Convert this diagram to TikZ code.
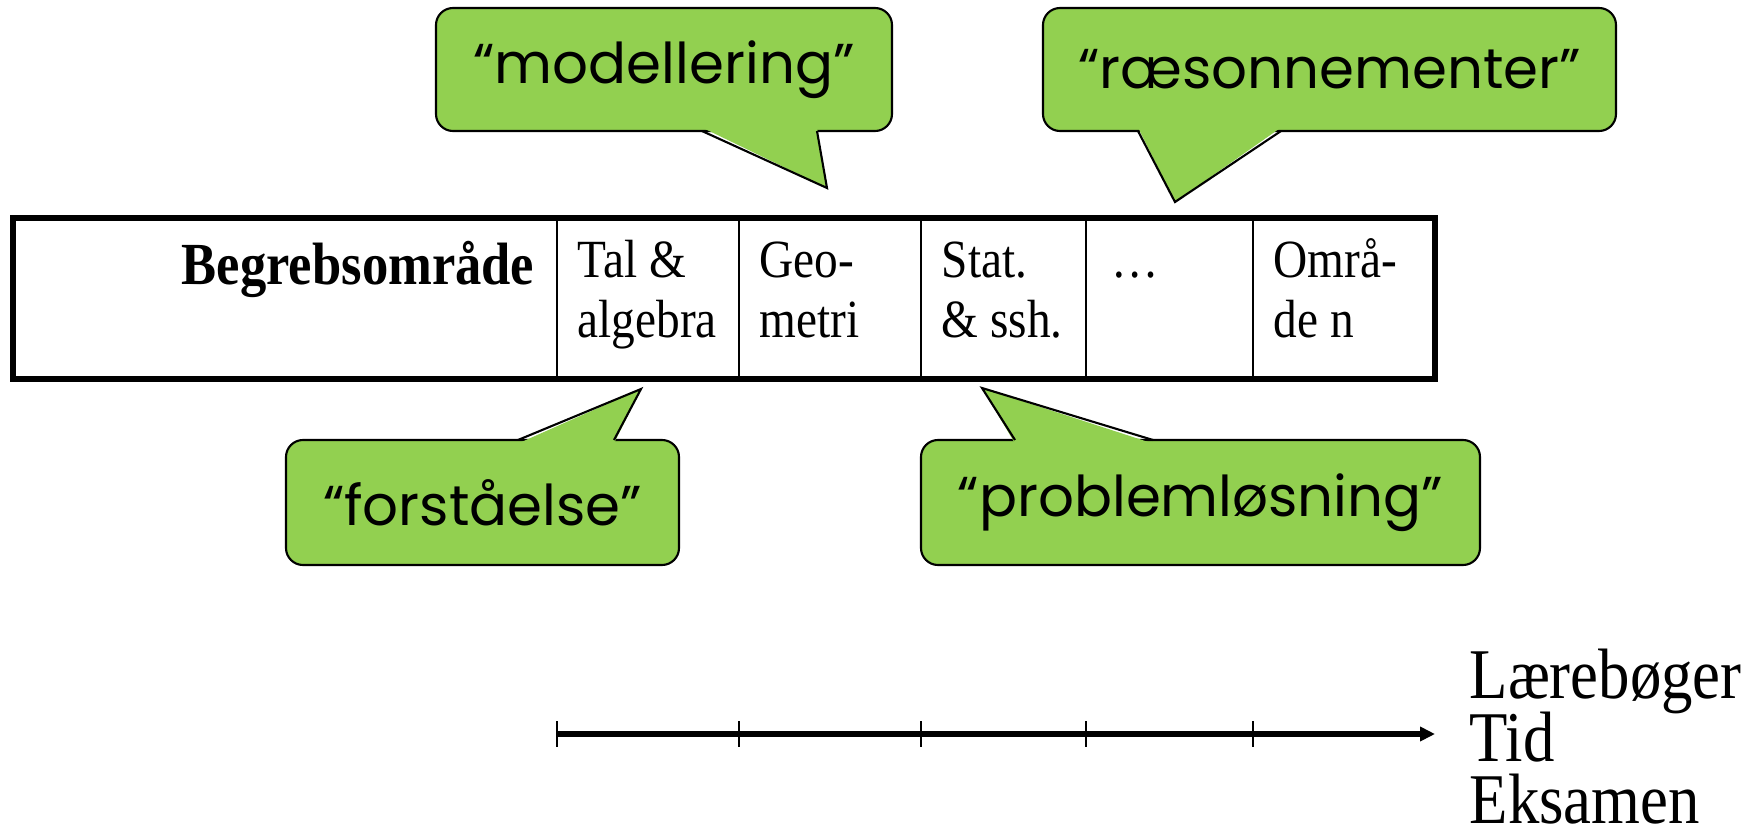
\documentclass[tikz,border=0pt]{standalone}
\usepackage{fontspec}
\usepackage{tikz}
\usetikzlibrary{arrows.meta}
\setmainfont{Liberation Serif}
\newfontfamily\tidfont[FakeStretch=0.88]{Liberation Serif}
\newfontfamily\boblefont{Poppins}
\definecolor{boblegroen}{RGB}{146,208,80}

\begin{document}
\begin{tikzpicture}[
    felt/.style={draw,line width=0.6pt,minimum height=1.61cm,inner sep=0pt,outer sep=0pt,anchor=north west},
    felttekst/.style={anchor=base west,align=left,inner sep=0pt,font=\tidfont\fontsize{15.3}{17}\selectfont},
    boble/.style={draw,fill=boblegroen,rounded corners=0.17cm,line width=0.6pt,inner sep=0pt,outer sep=0pt,font=\boblefont\fontsize{16}{19}\selectfont},
    hale/.style={line width=0.6pt,line join=miter},
    tidlabel/.style={anchor=base west,inner sep=0pt,font=\tidfont\fontsize{20.3}{18}\selectfont}
    ]
    \useasboundingbox (0,0) rectangle (17.54,-8.34);

    % tabellen
    \node[felt,minimum width=5.44cm] (hoved) at (0.13,-2.18) {};
    \node[felt,minimum width=1.82cm] (tal) at (hoved.north east) {};
    \node[felt,minimum width=1.82cm] (geo) at (tal.north east) {};
    \node[felt,minimum width=1.65cm] (stat) at (geo.north east) {};
    \node[felt,minimum width=1.67cm] (prik) at (stat.north east) {};
    \node[felt,minimum width=1.82cm] (omr) at (prik.north east) {};
    \draw[line width=1.6pt] (hoved.north west) rectangle (omr.south east);

    \node[anchor=base east,inner sep=0pt,font=\tidfont\bfseries\fontsize{17}{19}\selectfont] (hovedtekst) at ([xshift=-0.22cm,yshift=-0.66cm]hoved.north east) {Begrebsområde};
    \node[felttekst] (taltekst) at ([xshift=0.2cm,yshift=-1.19cm]tal.north west) {Tal \&\\algebra};
    \node[felttekst] (geotekst) at ([xshift=0.2cm,yshift=-1.19cm]geo.north west) {Geo-\\metri};
    \node[felttekst] (stattekst) at ([xshift=0.2cm,yshift=-1.19cm]stat.north west) {Stat.\\\& ssh.};
    \node[felttekst] (priktekst) at ([xshift=0.25cm,yshift=-0.59cm]prik.north west) {…};
    \node[felttekst] (omrtekst) at ([xshift=0.2cm,yshift=-1.19cm]omr.north west) {Områ-\\de n};

    % boblerne
    \node[boble,minimum width=4.56cm,minimum height=1.23cm] (modell) at (6.64,-0.695) {“modellering”};
    \coordinate (modellspids) at (8.27,-1.88);
    \fill[boblegroen] ([xshift=2.66cm,yshift=1pt]modell.south west) -- (modellspids) -- ([xshift=3.81cm,yshift=1pt]modell.south west) -- cycle;
    \draw[hale] ([xshift=2.66cm]modell.south west) -- (modellspids) -- ([xshift=3.81cm]modell.south west);

    \node[boble,minimum width=5.73cm,minimum height=1.23cm] (raeson) at (13.295,-0.695) {“ræsonnementer”};
    \coordinate (raesonspids) at (11.75,-2.02);
    \fill[boblegroen] ([xshift=0.95cm,yshift=1pt]raeson.south west) -- (raesonspids) -- ([xshift=2.38cm,yshift=1pt]raeson.south west) -- cycle;
    \draw[hale] ([xshift=0.95cm]raeson.south west) -- (raesonspids) -- ([xshift=2.38cm]raeson.south west);

    \node[boble,minimum width=3.93cm,minimum height=1.25cm] (forst) at (4.825,-5.025) {“forståelse”};
    \coordinate (forstspids) at (6.41,-3.89);
    \fill[boblegroen] ([xshift=2.32cm,yshift=-1pt]forst.north west) -- (forstspids) -- ([xshift=3.28cm,yshift=-1pt]forst.north west) -- cycle;
    \draw[hale] ([xshift=2.32cm]forst.north west) -- (forstspids) -- ([xshift=3.28cm]forst.north west);

    \node[boble,minimum width=5.59cm,minimum height=1.25cm] (probl) at (12.005,-5.025) {“problemløsning”};
    \coordinate (problspids) at (9.82,-3.88);
    \fill[boblegroen] ([xshift=0.94cm,yshift=-1pt]probl.north west) -- (problspids) -- ([xshift=2.32cm,yshift=-1pt]probl.north west) -- cycle;
    \draw[hale] ([xshift=0.94cm]probl.north west) -- (problspids) -- ([xshift=2.32cm]probl.north west);

    % tidslinjen
    \coordinate (start) at (5.57,-7.34);
    \coordinate (slut) at (14.35,-7.34);
    \draw[line width=1.5pt,-{Triangle[length=0.15cm,width=0.14cm]}] (start) -- (slut);
    \foreach \c in {tal,geo,stat,prik,omr}
        \draw[line width=0.7pt] (\c.west |- start) ++(0,0.13) -- ++(0,-0.26);

    \node[tidlabel] (laere) at (14.69,-6.98) {Lærebøger};
    \node[tidlabel] (tid) at (14.69,-7.61) {Tid};
    \node[tidlabel] (eks) at (14.69,-8.23) {Eksamen};
\end{tikzpicture}
\end{document}
